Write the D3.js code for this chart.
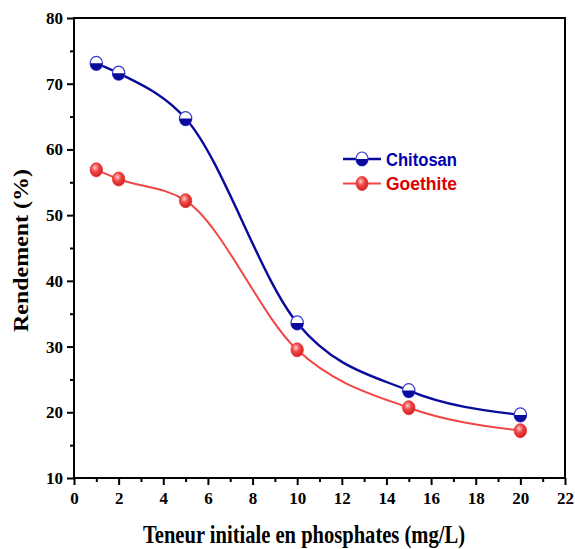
<!DOCTYPE html>
<html>
<head>
<meta charset="utf-8">
<script src="https://cdn.jsdelivr.net/npm/d3@7"></script>
<style>
  body { margin: 0; background: #fff; }
</style>
</head>
<body>
<svg id="chart" width="575" height="549"></svg>
<script>
const xValues = [1, 2, 5, 10, 15, 20];
const chitosan = [73.1, 71.6, 64.7, 33.6, 23.3, 19.6];
const goethite = [56.9, 55.5, 52.2, 29.5, 20.7, 17.2];
const xTicks = [0, 2, 4, 6, 8, 10, 12, 14, 16, 18, 20, 22];
const yTicks = [10, 20, 30, 40, 50, 60, 70, 80];

const BLUE = '#0a0a9c';
const RED = '#f24646';

const svg = d3.select('#chart');
const mLeft = 74, mRight = 565, mTop = 18, mBottom = 478;

const x = d3.scaleLinear().domain([0, 22]).range([mLeft, mRight]);
const y = d3.scaleLinear().domain([10, 80]).range([mBottom, mTop]);

const defs = svg.append('defs');
const grad = defs.append('radialGradient')
    .attr('id', 'ball').attr('cx', '40%').attr('cy', '35%').attr('r', '65%');
grad.append('stop').attr('offset', '0%').attr('stop-color', '#ffd0d0');
grad.append('stop').attr('offset', '45%').attr('stop-color', '#f04848');
grad.append('stop').attr('offset', '100%').attr('stop-color', '#d02020');

// frame
svg.append('rect')
    .attr('x', mLeft).attr('y', mTop)
    .attr('width', mRight - mLeft).attr('height', mBottom - mTop)
    .attr('fill', 'none').attr('stroke', '#000').attr('stroke-width', 2);

const tickFont = 'Liberation Serif, Times New Roman, serif';

const xAxis = svg.append('g')
    .attr('transform', `translate(0,${mBottom})`)
    .call(d3.axisBottom(x).tickValues(d3.range(0, 23, 1)).tickSize(6)
        .tickFormat(d => (xTicks.includes(d) ? d : '')));
xAxis.selectAll('.tick line').attr('stroke-width', 2)
    .attr('y2', d => (xTicks.includes(d) ? 7 : 4));
xAxis.select('.domain').remove();
xAxis.selectAll('text')
    .attr('font-family', tickFont).attr('font-weight', 'bold')
    .attr('font-size', 17).attr('fill', '#000').attr('dy', '1.0em');

const yAxis = svg.append('g')
    .attr('transform', `translate(${mLeft},0)`)
    .call(d3.axisLeft(y).tickValues(d3.range(10, 81, 5)).tickSize(6)
        .tickFormat(d => (yTicks.includes(d) ? d : '')));
yAxis.selectAll('.tick line').attr('stroke-width', 2)
    .attr('x2', d => (yTicks.includes(d) ? -7 : -4));
yAxis.select('.domain').remove();
yAxis.selectAll('text')
    .attr('font-family', tickFont).attr('font-weight', 'bold')
    .attr('font-size', 17).attr('fill', '#000').attr('x', -11);

// axis titles
svg.append('text')
    .attr('x', 143).attr('y', 543)
    .attr('textLength', 322).attr('lengthAdjust', 'spacingAndGlyphs')
    .attr('font-family', tickFont).attr('font-weight', 'bold').attr('font-size', 25)
    .text('Teneur initiale en phosphates (mg/L)');

svg.append('text')
    .attr('transform', 'translate(28,332) rotate(-90)')
    .attr('textLength', 163).attr('lengthAdjust', 'spacingAndGlyphs')
    .attr('font-family', tickFont).attr('font-weight', 'bold').attr('font-size', 20)
    .text('Rendement (%)');

const line = d3.line().x(d => x(d[0])).y(d => y(d[1])).curve(d3.curveMonotoneX);

function halfMarker(g, cx, cy, rx, ry) {
  g.append('ellipse').attr('cx', cx).attr('cy', cy).attr('rx', rx).attr('ry', ry)
      .attr('fill', '#fff').attr('stroke', '#3a3ad0').attr('stroke-width', 1.2);
  g.append('path')
      .attr('d', `M${cx - rx},${cy} A${rx},${ry} 0 0 0 ${cx + rx},${cy} Z`)
      .attr('fill', BLUE);
}

function ballMarker(g, cx, cy, rx, ry) {
  g.append('ellipse').attr('cx', cx).attr('cy', cy).attr('rx', rx).attr('ry', ry)
      .attr('fill', 'url(#ball)').attr('stroke', '#e83030').attr('stroke-width', 0.8);
}

const series = [
  { values: chitosan, color: BLUE, width: 2.4, marker: halfMarker, name: 'Chitosan', text: '#0000b0' },
  { values: goethite, color: RED, width: 2, marker: ballMarker, name: 'Goethite', text: '#dd0000' }
];

series.forEach(s => {
  const pts = xValues.map((v, i) => [v, s.values[i]]);
  svg.append('path').datum(pts)
      .attr('d', line).attr('fill', 'none')
      .attr('stroke', s.color).attr('stroke-width', s.width);
  const g = svg.append('g');
  pts.forEach(p => s.marker(g, x(p[0]), y(p[1]), 6.2, 7));
});

// legend
series.forEach((s, i) => {
  const ly = 159 + i * 24.5;
  svg.append('line').attr('x1', 343).attr('x2', 381).attr('y1', ly).attr('y2', ly)
      .attr('stroke', s.color).attr('stroke-width', s.width);
  s.marker(svg.append('g'), 362, ly, 6, 7);
  svg.append('text').attr('x', 386).attr('y', ly + 6.5)
      .attr('textLength', 71).attr('lengthAdjust', 'spacingAndGlyphs')
      .attr('font-family', 'Liberation Sans, Arial, sans-serif').attr('font-weight', 'bold')
      .attr('font-size', 18).attr('fill', s.text).text(s.name);
});
</script>
</body>
</html>
